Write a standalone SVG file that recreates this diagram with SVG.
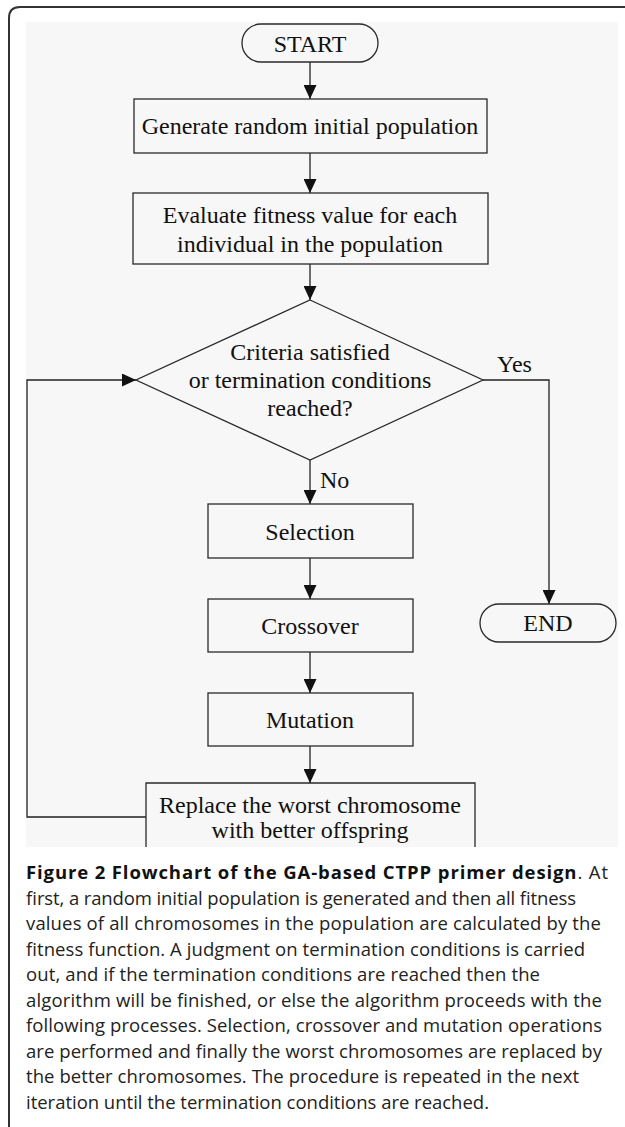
<svg xmlns="http://www.w3.org/2000/svg" width="625" height="1127" viewBox="0 0 625 1127">
<style>
.shape{fill:none;stroke:#2a2a2a;stroke-width:1.3}
.t{font-family:"Liberation Serif","Times New Roman",serif;font-size:24px;fill:#111;text-anchor:middle}
.lbl{font-family:"Liberation Serif","Times New Roman",serif;font-size:24px;fill:#111}
.c{font-family:"Open Sans","Noto Sans",sans-serif;font-size:18.5px;fill:#222}
.c .b{font-weight:bold;fill:#111}
.conn{fill:none;stroke:#222;stroke-width:1.3}
</style>
<defs>
<marker id="ah" viewBox="0 0 14 13" refX="14" refY="6.5" markerWidth="14" markerHeight="13" markerUnits="userSpaceOnUse" orient="auto">
<path d="M0,0 L14,6.5 L0,13 z" fill="#111"/>
</marker>
</defs>
<rect x="0" y="0" width="625" height="1127" fill="#fff"/>
<path d="M9,1127 V18 Q9,7 20,7 H625" fill="none" stroke="#333" stroke-width="2"/>
<rect x="26" y="22" width="592" height="825" fill="#f7f7f7"/>

<g id="connectors">
<path class="conn" d="M310,62 V99" marker-end="url(#ah)"/>
<path class="conn" d="M310,153 V193" marker-end="url(#ah)"/>
<path class="conn" d="M310,264 V300" marker-end="url(#ah)"/>
<path class="conn" d="M310,460 V504" marker-end="url(#ah)"/>
<path class="conn" d="M310,558 V599" marker-end="url(#ah)"/>
<path class="conn" d="M310,652 V693" marker-end="url(#ah)"/>
<path class="conn" d="M310,746 V783" marker-end="url(#ah)"/>
<path class="conn" d="M483,380 H549 V604" marker-end="url(#ah)"/>
<path class="conn" d="M146,817 H27 V380 H136" marker-end="url(#ah)"/>
<text class="lbl" x="497" y="372">Yes</text>
<text class="lbl" x="320" y="488">No</text>
</g>

<g id="start">
<rect class="shape" x="242" y="24" width="136" height="38" rx="19" ry="19"/>
<text class="t" x="310" y="52">START</text>
</g>
<g id="generate">
<rect class="shape" x="134" y="99" width="353" height="54"/>
<text class="t" x="310" y="134">Generate random initial population</text>
</g>
<g id="evaluate">
<rect class="shape" x="133" y="193" width="355" height="71"/>
<text class="t" x="310" y="223">Evaluate fitness value for each</text>
<text class="t" x="310" y="252">individual in the population</text>
</g>
<g id="decision">
<path class="shape" d="M310,300 L483,380 L310,460 L136,380 Z"/>
<text class="t" x="310" y="360">Criteria satisfied</text>
<text class="t" x="310" y="388">or termination conditions</text>
<text class="t" x="310" y="416">reached?</text>
</g>
<g id="selection">
<rect class="shape" x="208" y="504" width="205" height="54"/>
<text class="t" x="310" y="540">Selection</text>
</g>
<g id="crossover">
<rect class="shape" x="208" y="599" width="205" height="53"/>
<text class="t" x="310" y="634">Crossover</text>
</g>
<g id="mutation">
<rect class="shape" x="208" y="693" width="205" height="53"/>
<text class="t" x="310" y="728">Mutation</text>
</g>
<g id="replace">
<path class="shape" d="M146,847 V783 H475 V847"/>
<text class="t" x="310" y="813">Replace the worst chromosome</text>
<text class="t" x="310" y="838">with better offspring</text>
</g>
<g id="end">
<rect class="shape" x="480" y="604" width="136" height="38" rx="19" ry="19"/>
<text class="t" x="548" y="631">END</text>
</g>

<g id="caption" class="c">
<text x="26" y="879" textLength="582"><tspan class="b">Figure 2 Flowchart of the GA-based CTPP primer design</tspan>. At</text>
<text x="26" y="904.5" textLength="550">first, a random initial population is generated and then all fitness</text>
<text x="26" y="930" textLength="575">values of all chromosomes in the population are calculated by the</text>
<text x="26" y="955.5" textLength="559">fitness function. A judgment on termination conditions is carried</text>
<text x="26" y="981" textLength="514">out, and if the termination conditions are reached then the</text>
<text x="26" y="1006.5" textLength="576">algorithm will be finished, or else the algorithm proceeds with the</text>
<text x="26" y="1032" textLength="576">following processes. Selection, crossover and mutation operations</text>
<text x="26" y="1057.5" textLength="576">are performed and finally the worst chromosomes are replaced by</text>
<text x="26" y="1083" textLength="553">the better chromosomes. The procedure is repeated in the next</text>
<text x="26" y="1108.5" textLength="463">iteration until the termination conditions are reached.</text>
</g>
</svg>
